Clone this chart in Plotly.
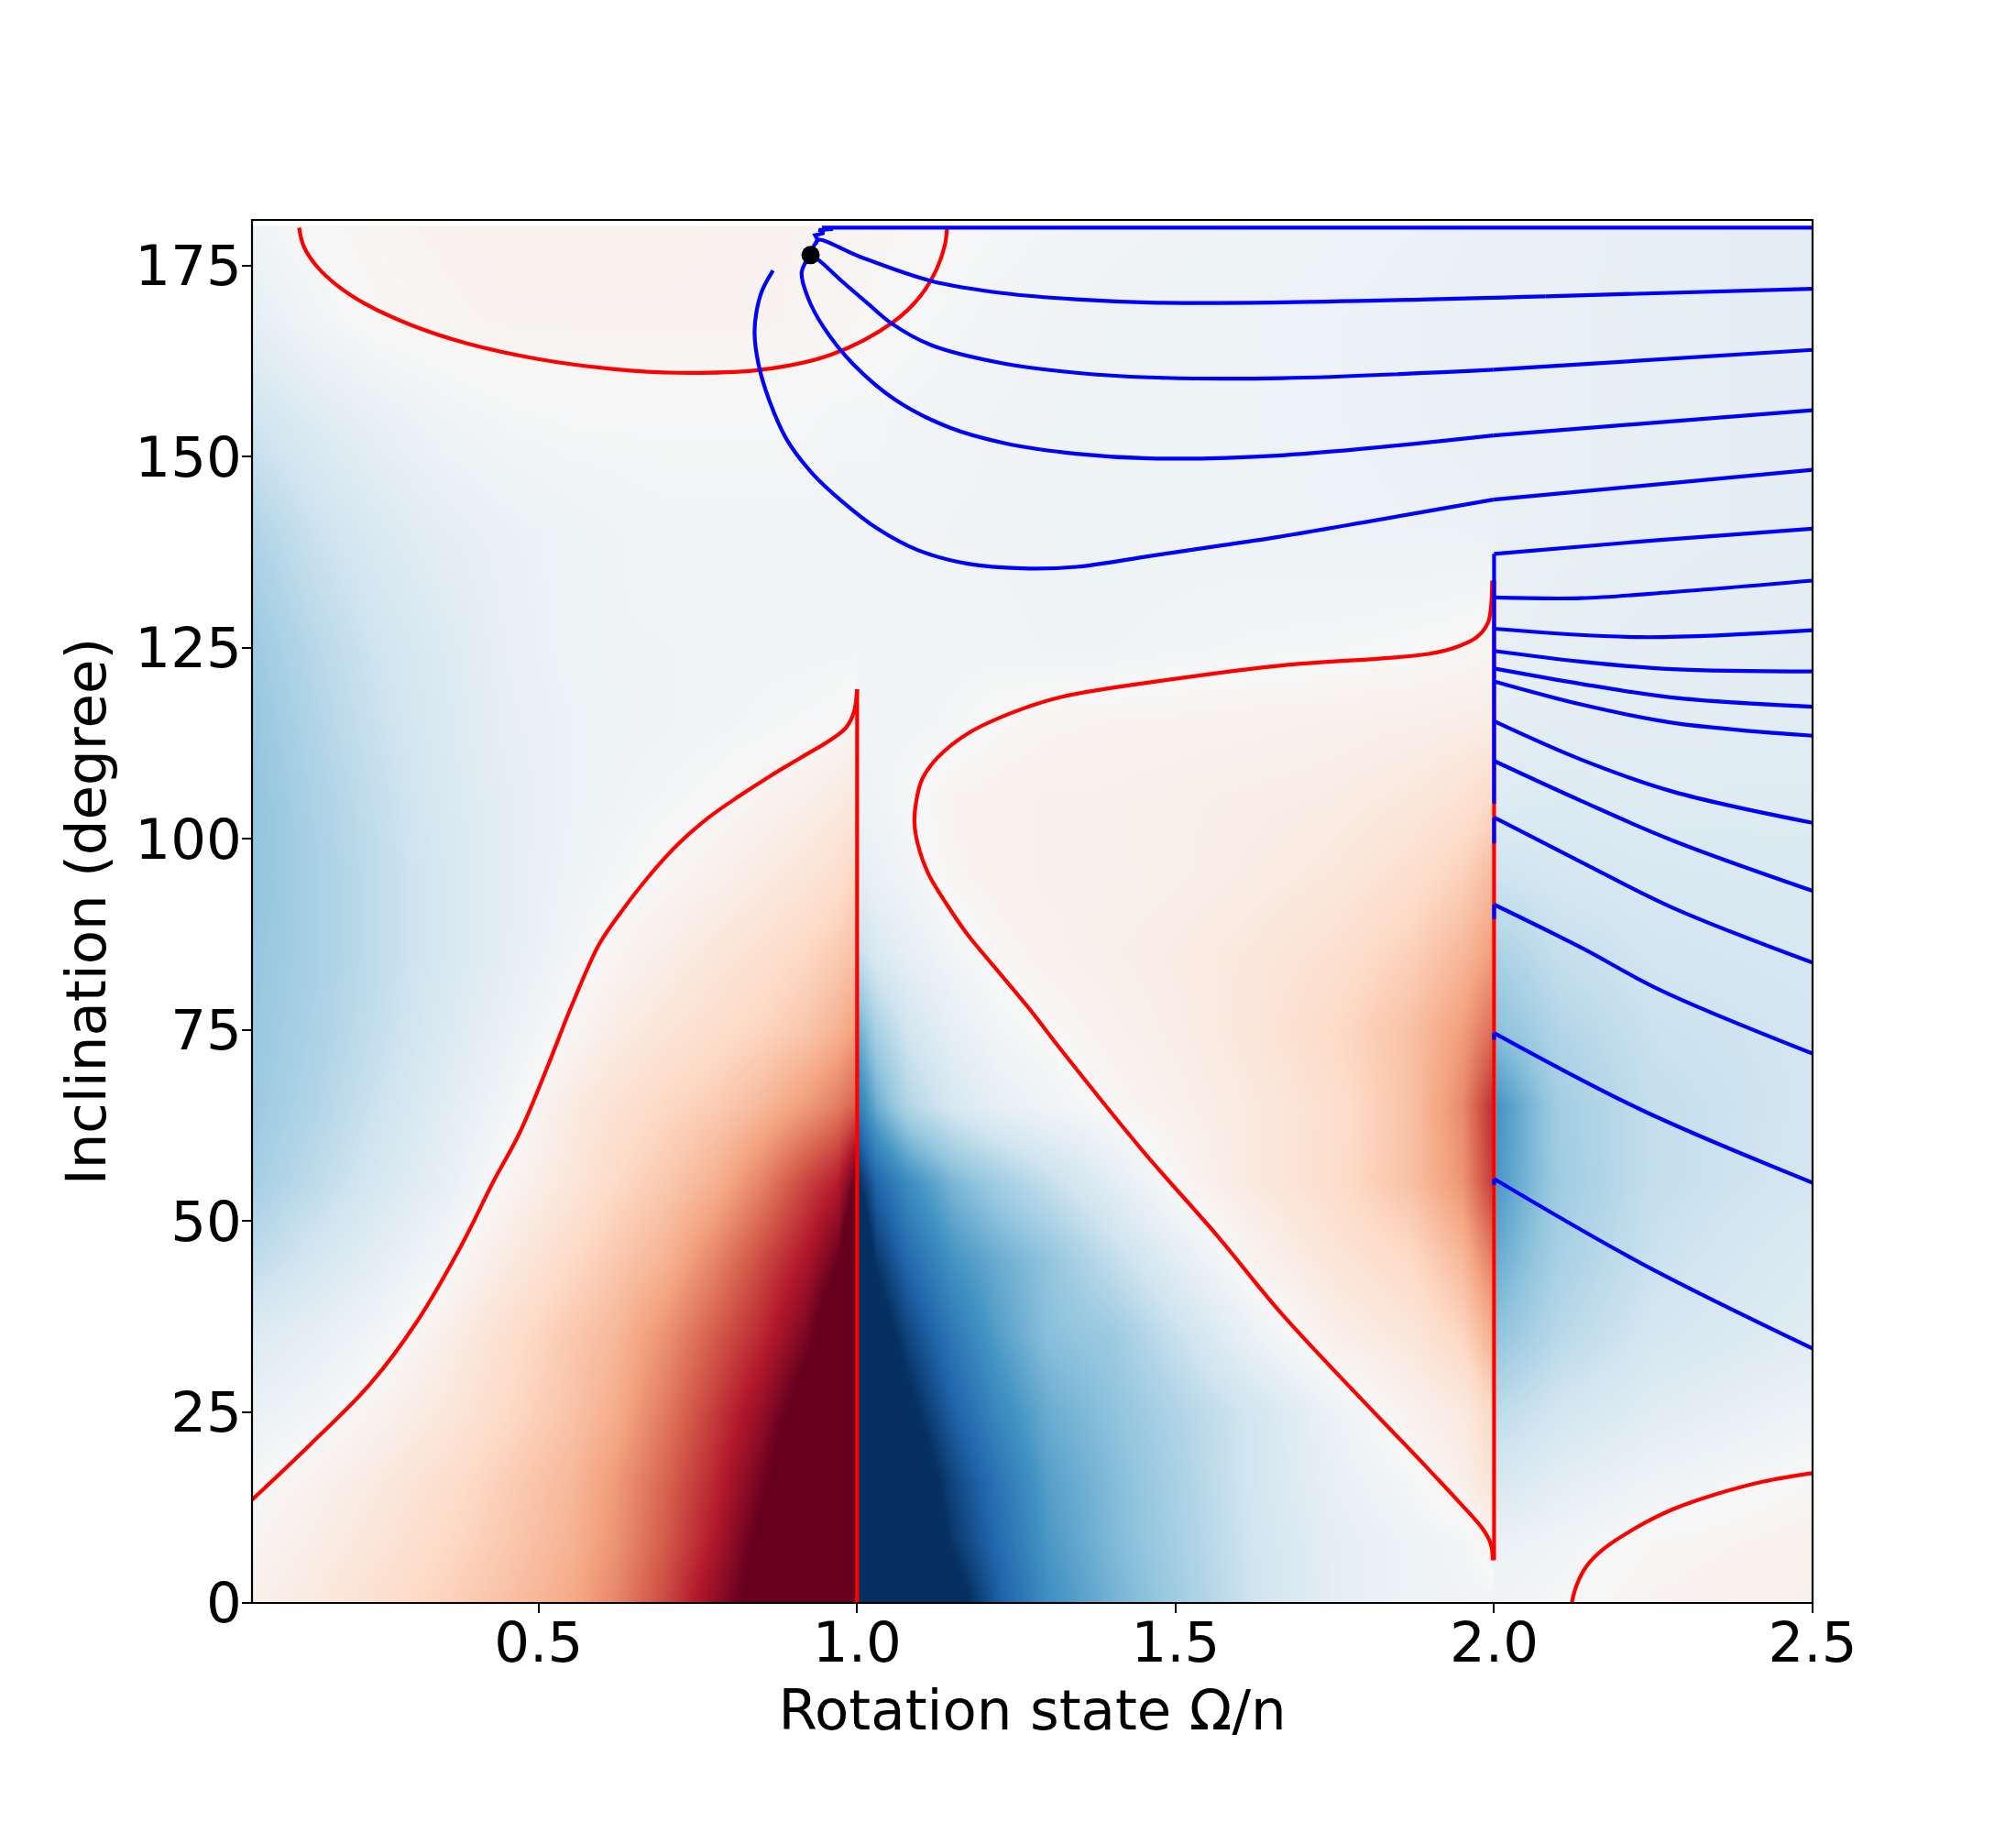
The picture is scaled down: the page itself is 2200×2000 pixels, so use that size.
import plotly.graph_objects as go

# ---------------- background field ----------------
x_grid = [0.05, 0.15, 0.25, 0.35, 0.45, 0.55, 0.62, 0.7, 0.78, 0.85, 0.92, 0.97, 0.997,
          1.003, 1.03, 1.08, 1.15, 1.22, 1.3, 1.4, 1.5, 1.62, 1.75, 1.87, 1.95, 1.997,
          2.003, 2.1, 2.25, 2.5]
y_grid = [0, 8, 16, 25, 35, 45, 55, 65, 75, 85, 95, 105, 115, 125, 140, 155, 168, 180]

z_rows = [
    [-0.05, -0.10, -0.17, -0.23, -0.30, -0.38, -0.49, -0.67, -0.90, -1.10, -1.30, -1.40, -1.50,
     1.50, 1.45, 1.35, 1.10, 0.84, 0.62, 0.48, 0.36, 0.21, 0.10, 0.05, 0.04, 0.04,
     0.04, 0.01, -0.03, -0.05],
    [-0.02, -0.07, -0.13, -0.20, -0.27, -0.35, -0.45, -0.62, -0.82, -1.05, -1.30, -1.40, -1.50,
     1.50, 1.40, 1.25, 0.97, 0.78, 0.58, 0.45, 0.34, 0.20, 0.10, 0.05, 0.03, -0.04,
     0.07, 0.04, -0.01, -0.04],
    [0.01, -0.04, -0.10, -0.17, -0.25, -0.33, -0.43, -0.59, -0.77, -0.97, -1.25, -1.40, -1.50,
     1.50, 1.35, 1.17, 0.92, 0.74, 0.55, 0.44, 0.33, 0.19, 0.08, 0.02, -0.06, -0.14,
     0.17, 0.11, 0.05, -0.01],
    [0.07, 0.03, -0.04, -0.11, -0.20, -0.29, -0.37, -0.53, -0.71, -0.88, -1.10, -1.35, -1.50,
     1.40, 1.25, 1.05, 0.82, 0.65, 0.50, 0.41, 0.31, 0.19, 0.06, -0.04, -0.10, -0.20,
     0.26, 0.19, 0.12, 0.05],
    [0.14, 0.09, 0.03, -0.06, -0.17, -0.27, -0.33, -0.46, -0.62, -0.76, -0.95, -1.20, -1.40,
     1.30, 1.12, 0.92, 0.72, 0.56, 0.42, 0.37, 0.23, 0.07, -0.06, -0.12, -0.22, -0.36,
     0.40, 0.28, 0.18, 0.12],
    [0.26, 0.18, 0.10, 0.02, -0.09, -0.20, -0.27, -0.35, -0.50, -0.66, -0.82, -0.99, -1.30,
     1.25, 0.97, 0.78, 0.60, 0.50, 0.40, 0.25, 0.11, -0.03, -0.13, -0.20, -0.33, -0.52,
     0.50, 0.33, 0.22, 0.14],
    [0.34, 0.26, 0.17, 0.09, -0.02, -0.12, -0.20, -0.27, -0.36, -0.50, -0.68, -0.79, -1.00,
     1.00, 0.80, 0.63, 0.46, 0.35, 0.24, 0.11, -0.01, -0.10, -0.18, -0.30, -0.45, -0.70,
     0.58, 0.36, 0.24, 0.18],
    [0.37, 0.30, 0.21, 0.12, 0.03, -0.09, -0.15, -0.21, -0.26, -0.33, -0.43, -0.52, -0.60,
     0.69, 0.50, 0.30, 0.17, 0.09, 0.04, -0.01, -0.05, -0.10, -0.17, -0.30, -0.48, -0.74,
     0.60, 0.35, 0.24, 0.19],
    [0.38, 0.32, 0.24, 0.15, 0.07, -0.01, -0.08, -0.13, -0.18, -0.22, -0.28, -0.35, -0.42,
     0.49, 0.33, 0.19, 0.09, 0.03, 0.00, -0.04, -0.07, -0.12, -0.20, -0.30, -0.42, -0.56,
     0.42, 0.30, 0.22, 0.19],
    [0.39, 0.33, 0.25, 0.17, 0.10, 0.03, -0.02, -0.07, -0.12, -0.16, -0.21, -0.26, -0.30,
     0.24, 0.15, 0.09, 0.03, -0.01, -0.04, -0.06, -0.08, -0.11, -0.16, -0.24, -0.33, -0.42,
     0.32, 0.24, 0.19, 0.17],
    [0.40, 0.33, 0.25, 0.17, 0.10, 0.05, 0.02, -0.01, -0.05, -0.09, -0.13, -0.17, -0.22,
     0.10, 0.07, 0.04, -0.02, -0.04, -0.05, -0.05, -0.06, -0.08, -0.11, -0.17, -0.24, -0.32,
     0.21, 0.18, 0.16, 0.15],
    [0.40, 0.32, 0.24, 0.16, 0.10, 0.06, 0.04, 0.02, 0.00, -0.03, -0.06, -0.09, -0.12,
     0.05, 0.04, 0.01, -0.03, -0.04, -0.05, -0.05, -0.06, -0.07, -0.08, -0.11, -0.15, -0.20,
     0.13, 0.14, 0.13, 0.13],
    [0.39, 0.30, 0.22, 0.15, 0.09, 0.06, 0.05, 0.04, 0.03, 0.02, 0.01, 0.00, -0.03,
     0.03, 0.03, 0.03, 0.02, -0.005, -0.02, -0.03, -0.035, -0.04, -0.05, -0.06, -0.07, -0.08,
     0.10, 0.11, 0.11, 0.12],
    [0.37, 0.28, 0.20, 0.14, 0.08, 0.05, 0.04, 0.04, 0.03, 0.03, 0.03, 0.03, 0.03,
     0.03, 0.03, 0.03, 0.03, 0.035, 0.04, 0.04, 0.03, 0.02, 0.015, 0.005, -0.005, -0.02,
     0.08, 0.09, 0.10, 0.11],
    [0.31, 0.22, 0.15, 0.10, 0.07, 0.05, 0.04, 0.03, 0.03, 0.03, 0.03, 0.03, 0.03,
     0.03, 0.03, 0.035, 0.04, 0.04, 0.045, 0.05, 0.05, 0.05, 0.055, 0.06, 0.06, 0.065,
     0.07, 0.08, 0.09, 0.10],
    [0.20, 0.13, 0.08, 0.04, 0.02, 0.01, 0.01, 0.01, 0.01, 0.01, 0.01, 0.02, 0.02,
     0.02, 0.02, 0.03, 0.035, 0.04, 0.045, 0.05, 0.05, 0.055, 0.06, 0.065, 0.07, 0.07,
     0.075, 0.08, 0.09, 0.10],
    [0.09, 0.03, -0.01, -0.02, -0.03, -0.03, -0.03, -0.03, -0.03, -0.03, -0.02, -0.02, -0.01,
     -0.01, -0.005, 0.005, 0.02, 0.03, 0.04, 0.045, 0.05, 0.055, 0.06, 0.065, 0.07, 0.07,
     0.075, 0.08, 0.09, 0.10],
    [0.04, -0.005, -0.02, -0.03, -0.035, -0.035, -0.035, -0.035, -0.03, -0.03, -0.025, -0.02, -0.02,
     -0.02, -0.015, -0.01, 0.0, 0.015, 0.025, 0.035, 0.04, 0.05, 0.055, 0.06, 0.065, 0.07,
     0.07, 0.075, 0.09, 0.10],
]

rdbu_colors = ["#67001f", "#b2182b", "#d6604d", "#f4a582", "#fddbc7", "#f7f7f7",
               "#d1e5f0", "#92c5de", "#4393c3", "#2166ac", "#053061"]

# ---------------- red zero-contours ----------------
c_left_x = [0.05, 0.141, 0.236, 0.308, 0.380, 0.428, 0.470, 0.514, 0.552, 0.595, 0.624, 0.672,
            0.720, 0.767, 0.815, 0.863, 0.911, 0.959, 0.983, 0.995, 1.0]
c_left_y = [13.5, 20.7, 28.7, 36.7, 47.0, 55.0, 61.5, 70.2, 78.2, 86.2, 89.8, 95.0,
            99.4, 102.8, 105.6, 108.2, 110.6, 113.0, 114.6, 116.6, 119.6]
c_res1_x = [1.0, 1.0]
c_res1_y = [0.0, 119.6]

c_loop_x = [1.997, 1.995, 1.990, 1.973, 1.944, 1.897, 1.667, 1.495, 1.322, 1.246, 1.174, 1.126,
            1.102, 1.093, 1.090, 1.095, 1.112, 1.141, 1.174, 1.222, 1.270, 1.322, 1.447, 1.566,
            1.667, 1.897, 1.944, 1.983, 1.995, 1.998]
c_loop_y = [133.8, 130.2, 128.2, 126.4, 125.2, 124.2, 122.7, 120.9, 118.6, 116.6, 113.8, 110.6,
            107.8, 105.0, 102.2, 99.4, 95.4, 91.4, 87.4, 82.6, 77.8, 72.2, 59.3, 48.0,
            37.8, 17.5, 13.3, 9.6, 7.7, 5.6]
c_res2_x = [2.0, 2.0]
c_res2_y = [5.6, 133.8]

c_top_x = [0.124, 0.131, 0.151, 0.184, 0.228, 0.301, 0.389, 0.499, 0.616, 0.719, 0.850, 0.960,
           1.056, 1.099, 1.125, 1.138, 1.141]
c_top_y = [180.0, 177.6, 175.0, 172.4, 170.0, 167.2, 164.8, 162.8, 161.5, 161.0, 161.4, 163.4,
           167.6, 171.0, 174.6, 177.8, 179.8]

c_br_x = [2.122, 2.129, 2.145, 2.174, 2.222, 2.279, 2.351, 2.423, 2.5]
c_br_y = [0.0, 2.2, 4.8, 7.2, 9.8, 12.2, 14.3, 15.9, 17.0]

red_contours = [(c_left_x, c_left_y, "spline"), (c_res1_x, c_res1_y, "linear"),
                (c_loop_x, c_loop_y, "spline"), (c_res2_x, c_res2_y, "linear"),
                (c_top_x, c_top_y, "spline"), (c_br_x, c_br_y, "spline")]

# ---------------- blue trajectories ----------------
t_top_x = [0.927, 0.932, 0.938, 0.934, 0.948, 0.940, 0.962, 0.945, 2.5]
t_top_y = [176.4, 177.6, 178.4, 179.0, 179.3, 179.7, 179.8, 180.0, 180.0]
t_a_x = [0.935, 0.939, 1.004, 1.117, 1.231, 1.344, 1.458, 1.652, 2.081, 2.5]
t_a_y = [177.8, 178.4, 176.2, 173.0, 171.4, 170.6, 170.2, 170.2, 171.0, 172.0]
t_b_x = [0.927, 0.939, 0.976, 1.015, 1.055, 1.117, 1.231, 1.344, 1.458, 1.667, 1.999, 2.5]
t_b_y = [176.4, 175.8, 173.0, 170.2, 167.4, 164.6, 162.2, 161.0, 160.4, 160.3, 161.4, 164.0]
t_c_x = [0.927, 0.913, 0.922, 0.947, 0.993, 1.061, 1.146, 1.231, 1.344, 1.458, 1.667, 1.999, 2.5]
t_c_y = [176.4, 174.2, 171.0, 167.0, 162.2, 157.4, 153.8, 151.8, 150.4, 149.8, 150.2, 152.8, 156.1]
t_d_x = [0.868, 0.851, 0.842, 0.839, 0.845, 0.862, 0.890, 0.930, 0.976, 1.032, 1.095, 1.174,
         1.259, 1.344, 1.458, 1.572, 1.652, 1.999, 2.5]
t_d_y = [174.4, 171.8, 169.0, 166.2, 162.2, 157.4, 152.2, 147.8, 144.2, 140.6, 137.8, 136.0,
         135.4, 135.6, 137.0, 138.4, 139.4, 144.4, 148.3]

smooth_trajs = [(t_a_x, t_a_y), (t_b_x, t_b_y), (t_c_x, t_c_y), (t_d_x, t_d_y)]

# trajectories leaving the 2:1 state (vertical part along x=2, then the curve)
r_vert_x = [2.0, 2.0]
r_vert_y = [[104.6, 137.3], [99.4, 102.8], [89.5, 91.4], [73.7, 74.6], [54.7, 55.5]]
r_curve_x = [
    [2.0, 2.257, 2.5],
    [2.0, 2.136, 2.280, 2.5],
    [2.0, 2.231, 2.5],
    [2.0, 2.136, 2.280, 2.5],
    [2.0, 2.136, 2.280, 2.5],
    [2.0, 2.136, 2.280, 2.5],
    [2.0, 2.136, 2.280, 2.5],
    [2.0, 2.136, 2.280, 2.5],
    [2.0, 2.136, 2.280, 2.5],
    [2.0, 2.136, 2.261, 2.5],
    [2.0, 2.232, 2.5],
    [2.0, 2.232, 2.5],
]
r_curve_y = [
    [137.3, 139.1, 140.6],
    [131.6, 131.5, 132.3, 133.8],
    [127.5, 126.4, 127.3],
    [124.6, 123.2, 122.2, 121.9],
    [122.3, 120.3, 118.5, 117.3],
    [120.6, 117.6, 115.2, 113.5],
    [115.4, 110.4, 106.2, 102.1],
    [110.2, 105.0, 99.8, 93.2],
    [102.8, 97.0, 91.0, 83.8],
    [91.4, 85.8, 80.2, 71.9],
    [74.6, 64.5, 55.0],
    [55.5, 44.4, 33.3],
]

dot_x = [0.927]
dot_y = [176.4]

x_ticks = [0.5, 1.0, 1.5, 2.0, 2.5]
x_ticklabels = ["0.5", "1.0", "1.5", "2.0", "2.5"]
y_ticks = [0, 25, 50, 75, 100, 125, 150, 175]

# ---------------- figure ----------------
FONT = "DejaVu Sans"
FS = 61
RED = "#ff0000"
BLUE = "#0000ff"
LW = 4.2


def line_trace(xs, ys, color, shape="linear", smoothing=1.0):
    return go.Scatter(x=xs, y=ys, mode="lines",
                      line=dict(color=color, width=LW, shape=shape, smoothing=smoothing),
                      hoverinfo="skip", showlegend=False)


fig = go.Figure()
n = len(rdbu_colors) - 1
fig.add_trace(go.Heatmap(
    x=x_grid, y=y_grid, z=z_rows,
    colorscale=[[i / n, c] for i, c in enumerate(rdbu_colors)],
    zmin=-1, zmax=1, zsmooth="best", showscale=False, hoverinfo="skip"))

for cx, cy, shape in red_contours:
    fig.add_trace(line_trace(cx, cy, RED, shape, 1.0))

fig.add_trace(line_trace(t_top_x, t_top_y, BLUE))
for tx, ty in smooth_trajs:
    # smooth curved part up to the 2:1 state, straight part after it
    k = next((i for i, v in enumerate(tx) if v >= 1.99), len(tx) - 1)
    fig.add_trace(line_trace(tx[:k + 1], ty[:k + 1], BLUE, "spline", 1.0))
    fig.add_trace(line_trace(tx[k:], ty[k:], BLUE))

for vy in r_vert_y:
    fig.add_trace(line_trace(r_vert_x, vy, BLUE))

for cx, cy in zip(r_curve_x, r_curve_y):
    fig.add_trace(line_trace(cx, cy, BLUE, "spline", 1.0))

fig.add_trace(go.Scatter(x=dot_x, y=dot_y, mode="markers",
                         marker=dict(color="black", size=20),
                         hoverinfo="skip", showlegend=False))

axis_common = dict(showgrid=False, zeroline=False, showline=False, ticks="outside",
                   ticklen=10, tickwidth=2.2, tickcolor="black",
                   tickfont=dict(family=FONT, size=FS, color="black"))

fig.update_layout(
    width=2200, height=2000,
    margin=dict(l=275, r=222, t=240, b=251, autoexpand=False),
    paper_bgcolor="white", plot_bgcolor="white",
    font=dict(family=FONT, size=FS, color="black"),
    hovermode=False,
    xaxis=dict(range=[0.05, 2.5], tickvals=x_ticks, ticktext=x_ticklabels,
               ticklabelstandoff=-20,
               title=dict(text="Rotation state Ω/n", font=dict(family=FONT, size=FS),
                          standoff=18),
               **axis_common),
    yaxis=dict(range=[0, 181], tickvals=y_ticks, ticklabelstandoff=-12,
               title=dict(text="Inclination (degree)", font=dict(family=FONT, size=FS),
                          standoff=12),
               **axis_common),
    shapes=[
        dict(type="rect", xref="x", yref="y", x0=0.05, x1=2.5, y0=180.27, y1=181.5,
             fillcolor="white", line=dict(width=0), layer="above"),
        dict(type="rect", xref="paper", yref="paper", x0=0, x1=1, y0=0, y1=1,
             line=dict(color="black", width=2.2), layer="above"),
    ],
)

fig.write_html("out.html")
